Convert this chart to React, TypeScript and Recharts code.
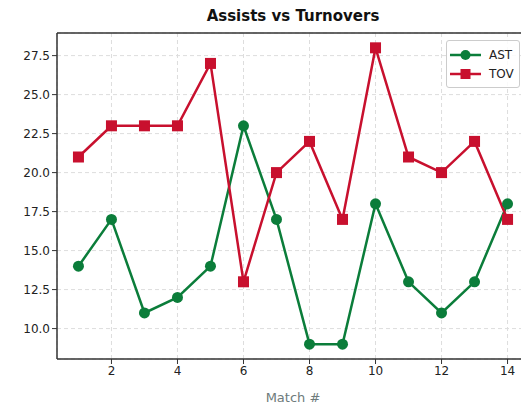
import React from "react";
import { LineChart, Line, XAxis, YAxis, CartesianGrid, ReferenceLine } from "recharts";

const matches = [1, 2, 3, 4, 5, 6, 7, 8, 9, 10, 11, 12, 13, 14];
const ast = [14, 17, 11, 12, 14, 23, 17, 9, 9, 18, 13, 11, 13, 18];
const tov = [21, 23, 23, 23, 27, 13, 20, 22, 17, 28, 21, 20, 22, 17];
const xTicks = [2, 4, 6, 8, 10, 12, 14];
const yTicks = [10, 12.5, 15, 17.5, 20, 22.5, 25, 27.5];

const data = matches.map((m, i) => ({ m, AST: ast[i], TOV: tov[i] }));

const GREEN = "#0b7d3a";
const RED = "#c8102e";
const FONT = "DejaVu Sans, sans-serif";

const SquareDot = (props: any) => {
  const { cx, cy } = props;
  if (cx == null || cy == null) return null;
  return <rect x={cx - 5.5} y={cy - 5.5} width={11} height={11} fill={RED} />;
};

const LegendBox = () => (
  <div
    style={{
      border: "1px solid #ccc",
      borderRadius: 3,
      background: "rgba(255,255,255,0.85)",
      padding: "4px 3px",
      fontFamily: FONT,
      fontSize: 12,
      color: "#222",
      width: 74,
      boxSizing: "border-box",
    }}
  >
    {[
      { name: "AST", color: GREEN, shape: "circle" },
      { name: "TOV", color: RED, shape: "square" },
    ].map((it) => (
      <div key={it.name} style={{ display: "flex", alignItems: "center", height: 19 }}>
        <svg width={31} height={12} style={{ marginRight: 8 }}>
          <line x1={0} y1={6} x2={31} y2={6} stroke={it.color} strokeWidth={2.5} />
          {it.shape === "circle" ? (
            <circle cx={15.5} cy={6} r={5} fill={it.color} />
          ) : (
            <rect x={10.5} y={1} width={10} height={10} fill={it.color} />
          )}
        </svg>
        <span>{it.name}</span>
      </div>
    ))}
  </div>
);

export default function App() {
  return (
    <div style={{ position: "absolute", left: 0, top: 0, width: 521, height: 407, overflow: "hidden", background: "#fff" }}>
      <div style={{ position: "absolute", top: 0, left: 0 }}>
        <LineChart width={529} height={407} data={data} margin={{ top: 33, right: 0, bottom: 0, left: 7 }}>
          <CartesianGrid stroke="#dddddd" strokeDasharray="4 3" horizontal vertical />
          <XAxis
            dataKey="m"
            type="number"
            domain={[0.35, 14.65]}
            ticks={xTicks}
            allowDataOverflow
            height={48}
            tick={{ fill: "#222", fontSize: 12, fontFamily: FONT }}
            tickLine={{ stroke: "#333" }}
            tickSize={5}
            axisLine={{ stroke: "#333", strokeWidth: 1.5 }}
            label={{ value: "Match #", position: "insideBottom", offset: 5, fill: "#6e7b7b", fontSize: 13, fontFamily: FONT }}
          />
          <YAxis
            type="number"
            domain={[8.05, 28.95]}
            ticks={yTicks}
            allowDataOverflow
            width={50}
            tickFormatter={(v: number) => v.toFixed(1)}
            tick={{ fill: "#222", fontSize: 12, fontFamily: FONT }}
            tickLine={{ stroke: "#333" }}
            tickSize={5}
            axisLine={{ stroke: "#333", strokeWidth: 1.5 }}
          />
          <ReferenceLine y={28.95} stroke="#333" strokeWidth={1.5} />
          <Line
            dataKey="AST"
            stroke={GREEN}
            strokeWidth={2.5}
            dot={{ r: 5.5, fill: GREEN, stroke: GREEN, strokeWidth: 0 }}
            isAnimationActive={false}
          />
          <Line dataKey="TOV" stroke={RED} strokeWidth={2.5} dot={<SquareDot />} isAnimationActive={false} />
        </LineChart>
      </div>
      <div
        style={{
          position: "absolute",
          top: 7,
          left: 0,
          width: 586,
          textAlign: "center",
          fontFamily: FONT,
          fontWeight: "bold",
          fontSize: 15,
          color: "#111",
        }}
      >
        Assists vs Turnovers
      </div>
      <div style={{ position: "absolute", top: 40, left: 446 }}>
        <LegendBox />
      </div>
    </div>
  );
}
